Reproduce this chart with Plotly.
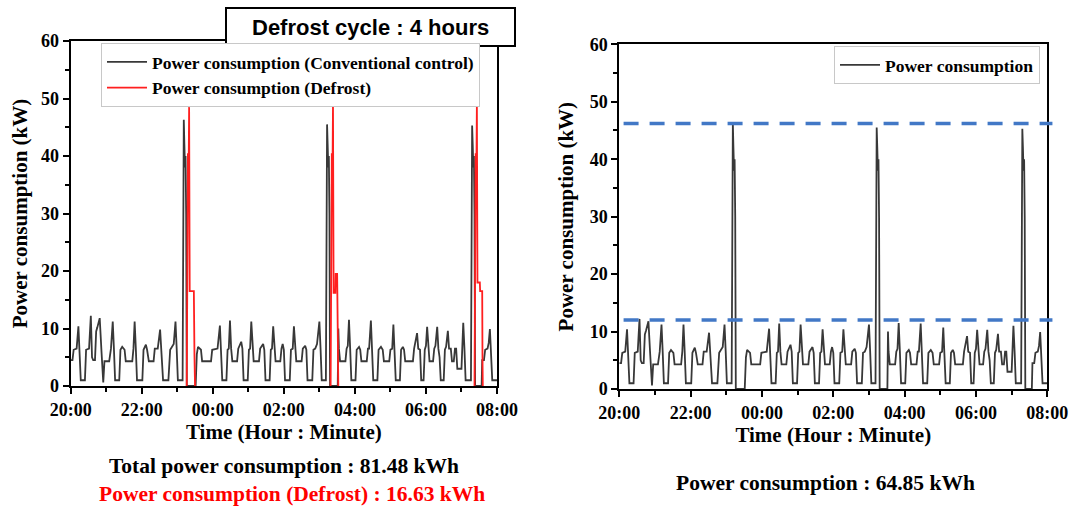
import plotly.graph_objects as go

# ---------------- data ----------------
# time in minutes after 20:00, power in kW
time_min = [0, 3, 5, 10, 13, 15, 17, 24, 26, 31, 34, 36, 38, 41, 43, 45, 49, 52, 55, 57,
            65, 68, 71, 73, 75, 82, 84, 87, 91, 93, 104, 106, 108, 110, 112, 121, 123, 127, 129, 132,
            140, 142, 147, 151, 153, 156, 165, 168, 174, 177, 179, 181, 189,
            190, 191, 192, 193, 194, 195, 196, 211,
            213, 215, 220, 222, 237, 239, 248, 252, 254, 256, 263, 265, 267, 269, 271, 273, 281, 283,
            288, 290, 292, 299, 301, 303, 305, 307, 309, 318, 320, 325, 327, 329, 336, 338, 340, 342,
            344, 346, 354, 356, 358, 360, 362, 370, 372, 375, 377, 379, 381, 390, 392, 396, 398, 400,
            408, 410, 413, 416, 420, 422, 424, 431,
            432, 433, 434, 435, 436, 437, 438, 451,
            452, 453, 455, 464, 466, 468, 470, 472, 474, 481, 483, 487, 489, 491, 500, 502, 504, 507,
            509, 511, 518, 520, 524, 527, 529, 538, 540, 543, 545, 547, 549, 556, 558, 561, 563, 565,
            578, 580, 582, 585, 587, 590, 592, 596, 598, 600, 602, 604, 606, 612, 614, 616, 619, 621,
            623, 625, 630, 632, 634, 637, 639, 642, 644, 647, 649, 651, 653, 660, 661, 663, 665, 667, 676,
            677, 678, 679, 680, 681, 682, 683, 694,
            695, 698, 700, 704, 706, 708, 710, 712, 720]
power_kw = [4.5, 4.5, 6.3, 6.5, 10.4, 6.5, 1.0, 1.0, 6.3, 6.5, 12.2, 5.0, 4.5, 4.5, 9.5, 10.2, 11.8, 6.0, 0.6, 4.3,
            4.3, 6.5, 11.2, 6.5, 1.0, 1.0, 6.3, 6.8, 6.3, 4.3, 4.3, 6.5, 11.2, 6.5, 1.0, 1.0, 6.3, 7.2, 6.3, 4.3,
            4.3, 6.5, 6.5, 9.8, 6.5, 1.0, 1.0, 6.3, 7.3, 11.2, 6.5, 1.0, 1.0,
            24, 46.3, 42, 38, 40, 30, 0, 0,
            5.5, 6.8, 6.3, 4.3, 4.3, 6.3, 6.5, 10.5, 6.5, 1.0, 1.0, 6.3, 6.5, 11.4, 6.5, 4.3, 4.3, 6.5,
            7.7, 6.5, 1.0, 1.0, 6.3, 6.5, 11.2, 6.5, 4.3, 4.3, 6.5, 7.3, 6.3, 1.0, 1.0, 6.3, 6.5, 10.4,
            6.5, 4.3, 4.3, 6.5, 7.3, 6.3, 1.0, 1.0, 6.3, 6.5, 10.4, 6.5, 4.3, 4.3, 6.5, 7.0, 6.3, 1.0,
            1.0, 6.3, 6.5, 7.3, 11.2, 6.5, 1.0, 1.0,
            24, 45.5, 42, 38, 40, 30, 0, 0,
            10.0, 6.5, 4.3, 4.3, 6.5, 7.0, 11.5, 6.5, 1.0, 1.0, 6.3, 6.8, 6.3, 4.3, 4.3, 6.5, 6.5, 11.4,
            6.5, 1.0, 1.0, 6.3, 6.8, 6.3, 4.3, 4.3, 6.3, 6.5, 10.7, 6.5, 1.0, 1.0, 6.3, 6.8, 6.3, 4.3,
            4.3, 6.5, 7.5, 9.2, 6.5, 6.3, 1.0, 1.0, 6.3, 7.0, 10.3, 6.5, 4.3, 4.3, 6.5, 7.0, 10.3, 6.5,
            5.0, 1.0, 1.0, 6.3, 6.8, 9.6, 6.5, 6.5, 4.3, 4.3, 6.5, 6.5, 3.0, 3.0, 6.0, 11.0, 6.5, 1.0, 1.0,
            24, 45.3, 42, 38, 40, 30, 0, 0,
            4.5, 4.5, 6.3, 6.5, 7.5, 9.9, 6.5, 1.0, 1.0]

defrost_min = [196, 197, 198, 199, 200, 201, 208, 209, 210, None,
               439, 440, 441, 442, 443, 444, 447, 447.5, 450, 451, 452, None,
               682, 683, 684, 685, 686, 687, 691, 691.5, 695, 695.5, 696]
defrost_kw = [0, 38, 40.5, 35, 48.5, 16.5, 16.5, 5.5, 0, None,
              0, 38, 40.5, 35, 49, 16.2, 16.2, 19.5, 19.5, 10, 0, None,
              0, 38, 40.5, 35, 49, 18, 18, 16.5, 16.5, 5, 0]

thresholds_kw = [46.2, 12.0]

tick_vals = [0, 120, 240, 360, 480, 600, 720]
tick_text = ["20:00", "22:00", "00:00", "02:00", "04:00", "06:00", "08:00"]

left_name_black = "Power consumption (Conventional control)"
left_name_red = "Power consumption (Defrost)"
right_name = "Power consumption"

# ---------------- figure ----------------
W, H = 1070, 507
SERIF = "Liberation Serif"
BLACK = "#383838"
RED = "#ff1f1f"
BLUE = "#4278c6"

fig = go.Figure()
fig.add_trace(go.Scatter(x=time_min, y=power_kw, mode="lines", name=left_name_black,
                         line=dict(color=BLACK, width=1.8), xaxis="x", yaxis="y", legend="legend"))
fig.add_trace(go.Scatter(x=defrost_min, y=defrost_kw, mode="lines", name=left_name_red,
                         line=dict(color=RED, width=1.8), connectgaps=False,
                         xaxis="x", yaxis="y", legend="legend"))
fig.add_trace(go.Scatter(x=time_min, y=power_kw, mode="lines", name=right_name,
                         line=dict(color=BLACK, width=1.8), xaxis="x2", yaxis="y2", legend="legend2"))


def px_x(p):
    return p / W


def px_y(p):
    return 1 - p / H


tickfont = dict(family=SERIF, size=18, color="black", weight="bold")
titlefont = dict(family=SERIF, size=21, color="black", weight="bold")


def xaxis_cfg(domain, anchor):
    return dict(domain=domain, anchor=anchor, range=[0, 720], tickvals=tick_vals, ticktext=tick_text,
                showline=True, linecolor="black", linewidth=2, mirror=True,
                ticks="outside", ticklen=6, tickwidth=2, tickcolor="black",
                minor=dict(ticks="outside", ticklen=4, tickwidth=1.5, tickcolor="black", dtick=60, tick0=0),
                showgrid=False, zeroline=False, tickfont=tickfont, automargin=False,
                title=dict(text="Time (Hour : Minute)", font=titlefont, standoff=6))


def yaxis_cfg(domain, anchor, standoff):
    return dict(domain=domain, anchor=anchor, range=[0, 60], dtick=10,
                showline=True, linecolor="black", linewidth=2, mirror=True,
                ticks="outside", ticklen=6, tickwidth=2, tickcolor="black",
                minor=dict(ticks="outside", ticklen=4, tickwidth=1.5, tickcolor="black", dtick=5, tick0=0),
                showgrid=False, zeroline=False, tickfont=tickfont, automargin=False,
                title=dict(text="Power consumption (kW)", font=titlefont, standoff=standoff))


fig.update_layout(
    width=W, height=H, autosize=False,
    margin=dict(l=0, r=0, t=0, b=0, autoexpand=False),
    paper_bgcolor="white", plot_bgcolor="white",
    xaxis=xaxis_cfg([px_x(70.7), px_x(497)], "y"),
    yaxis=yaxis_cfg([px_y(386), px_y(41)], "x", 8),
    xaxis2=xaxis_cfg([px_x(619.3), px_x(1047.3)], "y2"),
    yaxis2=yaxis_cfg([px_y(389), px_y(44.3)], "x2", 10),
    legend=dict(x=px_x(101), y=px_y(43), xanchor="left", yanchor="top",
                bgcolor="white", bordercolor="#c8c8c8", borderwidth=1,
                font=dict(family=SERIF, size=17.5, color="black", weight="bold"),
                itemwidth=40, tracegroupgap=0),
    legend2=dict(x=px_x(834), y=px_y(46), xanchor="left", yanchor="top",
                 bgcolor="white", bordercolor="#c8c8c8", borderwidth=1,
                 font=dict(family=SERIF, size=17.5, color="black", weight="bold"),
                 itemwidth=40),
    showlegend=True,
)

# threshold dashed lines on the right panel
for th in thresholds_kw:
    fig.add_shape(type="line", xref="x2 domain", yref="y2", x0=0.01, x1=1.012, y0=th, y1=th,
                  line=dict(color=BLUE, width=3.5, dash="15px,11px"), layer="above")

# "Defrost cycle" box
fig.add_shape(type="rect", xref="paper", yref="paper",
              x0=px_x(226), x1=px_x(515), y0=px_y(46), y1=px_y(8),
              fillcolor="white", line=dict(color="black", width=2), layer="above")
fig.add_annotation(xref="paper", yref="paper", x=px_x(370), y=px_y(27), showarrow=False,
                   xanchor="center", yanchor="middle",
                   text="Defrost cycle : 4 hours",
                   font=dict(family="Liberation Sans", size=22, color="black", weight="bold"))

# summary texts
fig.add_annotation(xref="paper", yref="paper", x=px_x(284), y=px_y(466), showarrow=False,
                   xanchor="center", yanchor="middle",
                   text="Total power consumption : 81.48 kWh",
                   font=dict(family=SERIF, size=21.5, color="black", weight="bold"))
fig.add_annotation(xref="paper", yref="paper", x=px_x(292), y=px_y(494), showarrow=False,
                   xanchor="center", yanchor="middle",
                   text="Power consumption (Defrost) : 16.63 kWh",
                   font=dict(family=SERIF, size=21.5, color="#ff0000", weight="bold"))
fig.add_annotation(xref="paper", yref="paper", x=px_x(825), y=px_y(483), showarrow=False,
                   xanchor="center", yanchor="middle",
                   text="Power consumption : 64.85 kWh",
                   font=dict(family=SERIF, size=21.5, color="black", weight="bold"))

fig.write_html("out.html")
